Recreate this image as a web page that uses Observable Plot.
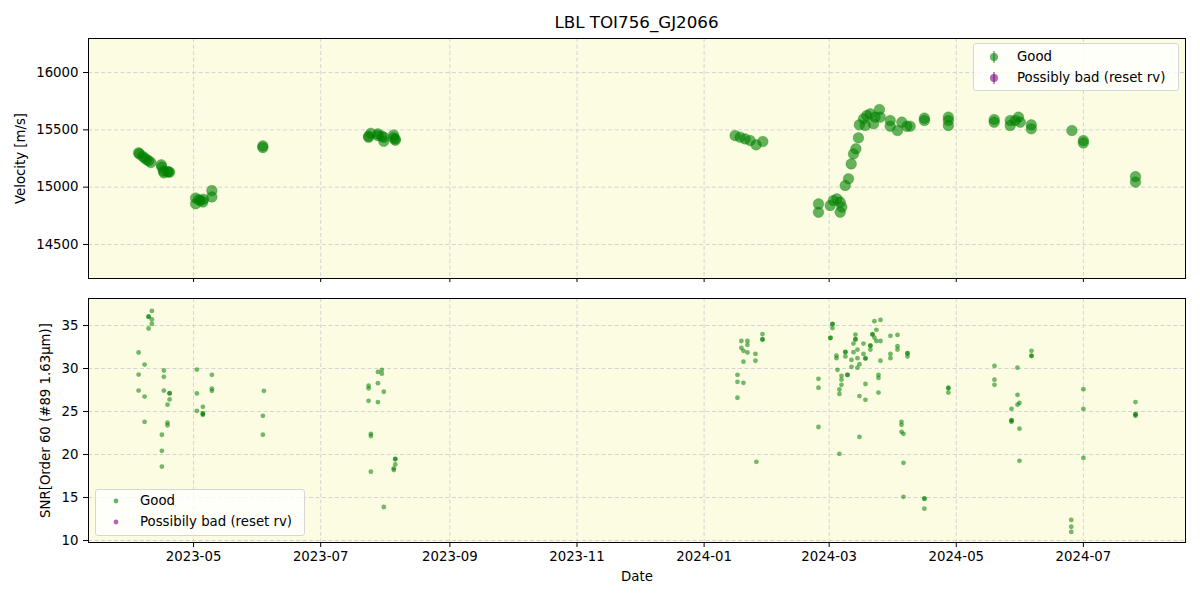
<!DOCTYPE html>
<html><head><meta charset="utf-8">
<script src="https://cdn.jsdelivr.net/npm/d3@7"></script>
<script src="https://cdn.jsdelivr.net/npm/@observablehq/plot@0.6"></script>
<style>
body{margin:0;background:#fff;font-family:"DejaVu Sans",sans-serif;}
#wrap{position:relative;width:1200px;height:600px;overflow:hidden;}
#title{position:absolute;left:88px;width:1097px;top:12px;text-align:center;font-size:16.7px;line-height:20px;color:#000;}
.panel{position:absolute;left:0;}
.legend{position:absolute;background:rgba(255,255,255,0.8);border:1px solid #d6d6d6;border-radius:3px;font-size:13.3px;color:#000;}
.legend .row{position:absolute;left:0;white-space:nowrap;height:18px;line-height:18px;}
.legend svg{position:absolute;top:0;}
.legend span{position:absolute;}
</style></head><body>
<div id="wrap">
  <div id="title"></div>
  <div id="top" class="panel" style="top:0"></div>
  <div id="bottom" class="panel" style="top:290px"></div>
  <div id="legTop" class="legend" style="left:973px;top:43px;width:204px;height:46px;"></div>
  <div id="legBot" class="legend" style="left:95px;top:489px;width:208px;height:45px;"></div>
</div>
<script>
const titleText = "LBL TOI756_GJ2066";
const rvLabel = "Velocity [m/s]";
const snrLabel = "SNR[Order 60 (#89 1.63μm)]";
const xLabel = "Date";
const legendTop = ["Good", "Possibly bad (reset rv)"];
const legendBottom = ["Good", "Possibily bad (reset rv)"];
const legendColors = ["green", "purple"];

const xTicks = ["2023-05-01","2023-07-01","2023-09-01","2023-11-01","2024-01-01","2024-03-01","2024-05-01","2024-07-01"];
const rvTicks = [14500, 15000, 15500, 16000];
const snrTicks = [10, 15, 20, 25, 30, 35];
const xDomain = ["2023-03-11 14", "2024-08-19 00"];
const rvDomain = [14203, 16297];
const snrDomain = [9.77, 38.14];

// Good velocity points
const rvDates = [
 "2023-04-04 15","2023-04-05 00","2023-04-06 12","2023-04-07 12","2023-04-08 12","2023-04-09 12","2023-04-10 12",
 "2023-04-15 12","2023-04-15 18","2023-04-16 12","2023-04-16 18","2023-04-18 12","2023-04-19 00","2023-04-19 12",
 "2023-05-02 00","2023-05-02 00","2023-05-03 10","2023-05-04 09","2023-05-05 11","2023-05-05 19","2023-05-09 19","2023-05-09 19",
 "2023-06-03 06","2023-06-03 06",
 "2023-07-24 00","2023-07-24 00","2023-07-25 02","2023-07-28 11","2023-07-28 11","2023-07-30 08","2023-07-31 07","2023-07-31 07",
 "2023-08-05 00","2023-08-05 00","2023-08-05 19","2023-08-05 19",
 "2024-01-15 21","2024-01-18 07","2024-01-20 16","2024-01-23 02","2024-01-25 23","2024-01-29 04",
 "2024-02-24 21","2024-02-24 21",
 "2024-03-01 12","2024-03-03 01","2024-03-04 17","2024-03-06 07","2024-03-07 02","2024-03-06 07",
 "2024-03-08 17","2024-03-10 07","2024-03-11 14","2024-03-12 16","2024-03-13 20","2024-03-15 01",
 "2024-03-15 12","2024-03-17 12","2024-03-18 07","2024-03-19 02","2024-03-20 17","2024-03-22 07","2024-03-23 02","2024-03-25 03","2024-03-25 12",
 "2024-03-30 07","2024-03-30 07","2024-04-02 19","2024-04-04 21","2024-04-07 07","2024-04-08 21",
 "2024-04-15 17","2024-04-15 17",
 "2024-04-27 05","2024-04-27 05","2024-04-27 05",
 "2024-05-19 05","2024-05-19 05",
 "2024-05-26 21","2024-05-26 21","2024-05-29 07","2024-05-30 21","2024-05-31 17",
 "2024-06-06 00","2024-06-06 00",
 "2024-06-25 12",
 "2024-07-01 00","2024-07-01 00",
 "2024-07-26 00","2024-07-26 00"
];
const rvValues = [
 15300,15290,15270,15255,15240,15230,15215,
 15195,15175,15140,15125,15135,15135,15130,
 14905,14855,14890,14885,14870,14895,14970,14915,
 15360,15345,
 15445,15435,15470,15465,15450,15445,15435,15400,
 15455,15430,15410,15420,
 15450,15436,15421,15407,15369,15398,
 14854,14781,
 14840,14884,14898,14869,14826,14782,
 15015,15073,15203,15290,15334,15430,
 15544,15596,15538,15625,15640,15553,15611,15677,15611,
 15582,15532,15494,15567,15532,15532,
 15602,15582,
 15611,15582,15538,
 15590,15567,
 15582,15538,15582,15611,15567,
 15544,15509,
 15494,
 15407,15386,
 15092,15044
];
// Possibly bad velocity points (none)
const badRvDates = [];
const badRvValues = [];

// SNR points
const snrDates = [
 "2023-04-11 00","2023-04-09 10","2023-04-09 10","2023-04-11 00","2023-04-11 00","2023-04-09 10",
 "2023-04-04 15","2023-04-04 15","2023-04-04 15",
 "2023-04-07 12","2023-04-07 12","2023-04-07 12",
 "2023-04-16 18","2023-04-16 18","2023-04-16 18",
 "2023-04-19 12","2023-04-19 12","2023-04-19 12",
 "2023-04-18 12","2023-04-18 12","2023-04-18 12",
 "2023-04-15 19","2023-04-15 19","2023-04-15 19",
 "2023-05-02 14","2023-05-02 14","2023-05-02 14",
 "2023-05-05 11","2023-05-05 11","2023-05-05 11","2023-05-05 11",
 "2023-05-09 19","2023-05-09 19","2023-05-09 19",
 "2023-06-03 18","2023-06-03 06","2023-06-03 06",
 "2023-07-24 00","2023-07-24 00","2023-07-24 00",
 "2023-07-25 02","2023-07-25 02","2023-07-25 02",
 "2023-07-28 11","2023-07-28 11","2023-07-28 11",
 "2023-07-30 08","2023-07-30 08",
 "2023-07-31 07","2023-07-31 07",
 "2023-08-05 19","2023-08-05 19","2023-08-05 19",
 "2023-08-05 02","2023-08-05 02",
 "2024-01-18 21","2024-01-21 19","2024-01-21 19","2024-01-18 21","2024-01-19 21","2024-01-21 19","2024-01-19 21",
 "2024-01-25 15","2024-01-25 15",
 "2024-01-29 00","2024-01-29 00","2024-01-29 00",
 "2024-01-17 00","2024-01-17 00","2024-01-19 21","2024-01-17 00",
 "2024-01-26 02",
 "2024-02-24 21","2024-02-24 21","2024-02-24 21",
 "2024-03-02 14","2024-03-02 14","2024-03-02 14",
 "2024-03-01 15","2024-03-01 15",
 "2024-03-04 12","2024-03-04 12",
 "2024-03-05 00",
 "2024-03-05 22",
 "2024-03-06 22","2024-03-06 22","2024-03-06 22",
 "2024-03-05 22","2024-03-05 22",
 "2024-03-08 19","2024-03-08 19","2024-03-08 19",
 "2024-03-09 19","2024-03-09 19",
 "2024-03-11 17","2024-03-11 17",
 "2024-03-12 16","2024-03-12 16",
 "2024-03-13 15","2024-03-13 15","2024-03-13 15",
 "2024-03-14 14","2024-03-14 14","2024-03-14 14",
 "2024-03-15 13","2024-03-15 13","2024-03-15 13",
 "2024-03-17 11","2024-03-17 11",
 "2024-03-18 10","2024-03-18 10","2024-03-18 10","2024-03-18 10",
 "2024-03-20 19","2024-03-20 19","2024-03-20 19",
 "2024-03-21 19","2024-03-21 19",
 "2024-03-22 17","2024-03-22 17",
 "2024-03-23 16","2024-03-23 16",
 "2024-03-25 15","2024-03-25 15","2024-03-25 15",
 "2024-03-24 16","2024-03-24 16","2024-03-24 16",
 "2024-03-30 10","2024-03-30 10","2024-03-30 10",
 "2024-04-02 19","2024-04-02 19","2024-04-02 19",
 "2024-04-04 17","2024-04-04 17","2024-04-04 17",
 "2024-04-05 16","2024-04-05 16","2024-04-05 16",
 "2024-04-07 14","2024-04-07 14","2024-04-07 14",
 "2024-04-15 17","2024-04-15 17","2024-04-15 17",
 "2024-04-27 05","2024-04-27 05","2024-04-27 05",
 "2024-05-19 08","2024-05-19 08","2024-05-19 08",
 "2024-05-27 12","2024-05-27 12","2024-05-27 12","2024-05-27 12",
 "2024-05-30 09","2024-05-30 09","2024-05-30 09",
 "2024-05-31 08","2024-05-31 08","2024-05-31 08",
 "2024-06-06 02","2024-06-06 02","2024-06-06 02",
 "2024-06-25 04","2024-06-25 04","2024-06-25 04",
 "2024-07-01 00","2024-07-01 00","2024-07-01 00",
 "2024-07-26 00","2024-07-26 00","2024-07-26 00","2024-07-26 00"
];
const snrValues = [
 36.7,36.0,36.05,35.7,35.2,34.65,
 31.86,29.3,27.44,
 30.46,26.74,23.8,
 29.77,29.03,27.44,
 27.13,27.1,26.4,
 25.8,23.7,23.4,
 22.3,20.43,18.6,
 29.88,27.1,25.08,
 25.55,24.77,24.75,24.6,
 29.26,27.67,27.4,
 27.4,24.5,22.3,
 28.0,27.7,26.24,
 22.4,22.15,18.0,
 29.6,28.3,26.1,
 29.85,29.4,
 27.3,13.9,
 19.5,19.45,18.85,
 18.4,18.2,
 33.2,33.2,32.75,32.4,32.06,31.86,30.8,
 31.7,30.9,
 34.0,33.4,33.35,
 29.27,28.45,28.34,26.6,
 19.15,
 28.8,27.76,23.2,
 35.2,35.15,34.7,
 33.57,33.55,
 31.5,31.2,
 29.85,
 20.08,
 29.15,28.7,28.1,
 27.56,27.05,
 31.94,31.9,31.4,
 29.27,29.25,
 30.2,31.0,
 31.9,32.9,
 33.4,33.38,33.95,
 32.2,31.2,30.1,
 30.5,26.8,22.05,
 32.9,31.7,
 31.2,31.15,28.2,26.36,
 32.67,32.65,32.2,
 34.0,33.95,
 35.5,33.6,
 34.5,33.2,
 35.65,33.2,30.9,
 29.27,28.9,27.2,
 33.8,31.7,31.2,
 33.9,32.6,32.2,
 23.8,23.45,22.64,
 22.4,19.03,15.08,
 31.8,31.75,31.4,
 14.9,14.85,13.7,
 27.76,27.7,27.2,
 30.3,28.7,28.1,
 25.3,24.0,23.95,23.8,
 30.1,26.94,25.8,
 26.0,23.0,19.27,
 32.06,31.5,31.45,
 12.4,11.6,11.0,
 27.6,25.3,19.6,
 26.1,24.7,24.65,24.5
];
const badSnrDates = [];
const badSnrValues = [];

const parse = d3.utcParse("%Y-%m-%d %H");
const parseDay = d3.utcParse("%Y-%m-%d");
const rv = rvDates.map((d, i) => ({date: parse(d), v: rvValues[i]}));
const badRv = badRvDates.map((d, i) => ({date: parse(d), v: badRvValues[i]}));
const snr = snrDates.map((d, i) => ({date: parse(d), v: snrValues[i]}));
const badSnr = badSnrDates.map((d, i) => ({date: parse(d), v: badSnrValues[i]}));
const xT = xTicks.map(parseDay);
const xD = xDomain.map(parse);

const bg = "#fcfce3";
const gridStyle = {stroke: "#cfcfd4", strokeOpacity: 1, strokeWidth: 0.9, strokeDasharray: "4,2.5"};
const style = {background: "transparent", fontFamily: "DejaVu Sans, sans-serif", fontSize: "13.3px", color: "#000", overflow: "visible"};

document.getElementById("title").textContent = titleText;

const topPlot = Plot.plot({
  width: 1200, height: 290,
  marginLeft: 88, marginRight: 15, marginTop: 38, marginBottom: 12,
  style,
  x: {type: "utc", domain: xD},
  y: {domain: rvDomain},
  marks: [
    Plot.frame({fill: bg, stroke: null}),
    Plot.gridX(xT, gridStyle),
    Plot.gridY(rvTicks, gridStyle),
    Plot.axisX(xT, {tickSize: 4, tickFormat: () => "", label: null}),
    Plot.axisY(rvTicks, {tickSize: 5, tickPadding: 5, tickFormat: d3.format("d"), label: rvLabel, labelAnchor: "center", labelArrow: "none", labelOffset: 73}),
    Plot.dot(rv, {x: "date", y: "v", r: 5.3, fill: "green", fillOpacity: 0.6, stroke: "green", strokeOpacity: 0.3, strokeWidth: 1}),
    Plot.dot(badRv, {x: "date", y: "v", r: 5.3, fill: "purple", fillOpacity: 0.6}),
    Plot.frame({stroke: "#000", strokeWidth: 1})
  ]
});
document.getElementById("top").appendChild(topPlot);

const botPlot = Plot.plot({
  width: 1200, height: 310,
  marginLeft: 88, marginRight: 15, marginTop: 8, marginBottom: 58,
  style,
  x: {type: "utc", domain: xD},
  y: {domain: snrDomain},
  marks: [
    Plot.frame({fill: bg, stroke: null}),
    Plot.gridX(xT, gridStyle),
    Plot.gridY(snrTicks, gridStyle),
    Plot.axisX(xT, {tickSize: 5, tickPadding: 4, tickFormat: d3.utcFormat("%Y-%m"), label: xLabel, labelAnchor: "center", labelArrow: "none", labelOffset: 38}),
    Plot.axisY(snrTicks, {tickSize: 5, tickPadding: 5, tickFormat: d3.format("d"), label: snrLabel, labelAnchor: "center", labelArrow: "none", labelOffset: 48}),
    Plot.dot(snr, {x: "date", y: "v", r: 2.4, fill: "green", fillOpacity: 0.55}),
    Plot.dot(badSnr, {x: "date", y: "v", r: 2.4, fill: "purple", fillOpacity: 0.55}),
    Plot.frame({stroke: "#000", strokeWidth: 1})
  ]
});
document.getElementById("bottom").appendChild(botPlot);

function buildLegend(id, labels, errorbar, rowTops, markerX, textX, r) {
  const el = document.getElementById(id);
  labels.forEach((lab, i) => {
    const row = document.createElement("div");
    row.className = "row";
    row.style.top = rowTops[i] + "px";
    const c = legendColors[i];
    let svg = `<svg width="24" height="18" style="left:${markerX - 12}px">`;
    if (errorbar) svg += `<line x1="12" x2="12" y1="3" y2="15" stroke="${c}" stroke-opacity="0.6" stroke-width="1.5"/>`;
    svg += `<circle cx="12" cy="9" r="${r}" fill="${c}" fill-opacity="0.6"/></svg>`;
    row.innerHTML = svg + `<span style="left:${textX}px">${lab}</span>`;
    el.appendChild(row);
  });
}
buildLegend("legTop", legendTop, true, [4, 25], 20, 43, 4);
buildLegend("legBot", legendBottom, false, [2, 23], 20, 44, 2.4);
</script>
</body></html>
